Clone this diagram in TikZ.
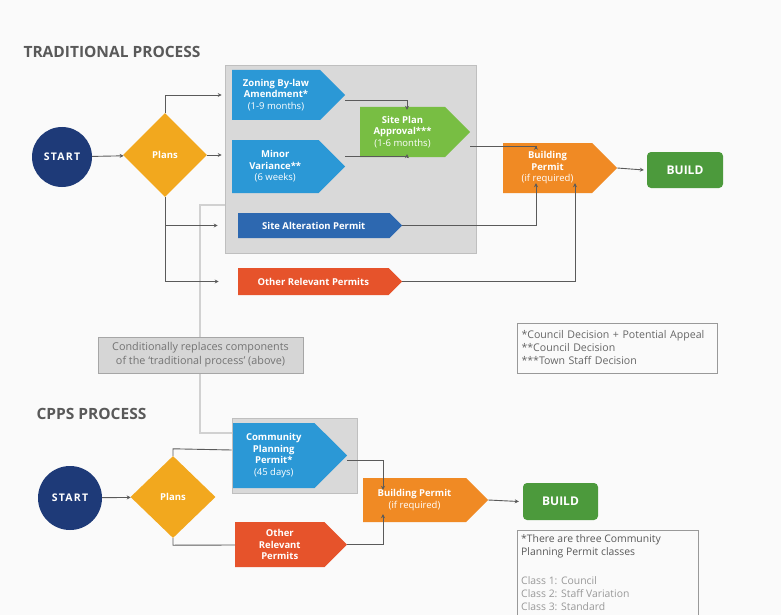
\documentclass[tikz,border=0pt]{standalone}
\usepackage{fontspec}
\setmainfont{Open Sans}
\newfontfamily\spacedfont[LetterSpace=12]{Open Sans}
\usetikzlibrary{shapes.geometric,shapes.symbols,arrows.meta}
\definecolor{navy}{HTML}{1E3A78}
\definecolor{gold}{HTML}{F2A81E}
\definecolor{sky}{HTML}{2B98D6}
\definecolor{lime}{HTML}{78BE43}
\definecolor{royal}{HTML}{2D68B0}
\definecolor{redor}{HTML}{E6532B}
\definecolor{orng}{HTML}{F08A24}
\definecolor{grn}{HTML}{4C9A3C}
\definecolor{boxgrey}{HTML}{D9D9D9}
\definecolor{linegrey}{HTML}{5A5A5A}
\definecolor{bg}{HTML}{FAFAFA}
\tikzset{
  arrowbox/.style={signal, signal to=east, signal from=nowhere, draw=none, text=white,
    font=\fontsize{9.5}{11.5}\selectfont\bfseries, align=center, inner sep=1pt},
  startnode/.style={circle, fill=navy, text=white, inner sep=0pt,
    font=\fontsize{10.5}{12}\spacedfont\bfseries},
  decision/.style={diamond, fill=gold, text=white, inner sep=0pt,
    font=\fontsize{9.5}{11}\selectfont\bfseries},
  buildnode/.style={rectangle, rounded corners=4pt, fill=grn, text=white,
    font=\fontsize{12}{14}\selectfont\bfseries},
  group/.style={rectangle, fill=boxgrey, draw=black!25, line width=0.6pt},
  conn/.style={draw=linegrey, line width=0.9pt, -{Stealth[length=4pt,width=4pt]}},
  plain/.style={draw=linegrey, line width=0.9pt},
  link/.style={draw=black!18, line width=1.3pt},
  title/.style={anchor=west, text=black!65, font=\fontsize{15.5}{17}\selectfont\bfseries},
}
\begin{document}
\begin{tikzpicture}[x=1pt,y=-1pt]
\useasboundingbox (0,0) rectangle (781,615);
\fill[bg] (0,0) rectangle (781,615);

% ---------- TRADITIONAL PROCESS ----------
\node[title] (t1) at (20,52) {TRADITIONAL PROCESS};

\node[group, minimum width=251, minimum height=188] (grey1) at (350.5,159) {};
\node[group, minimum width=125, minimum height=75] (grey2) at (294.5,455.5) {};

% link between processes
\coordinate (l1) at (200,205);
\coordinate (l2) at (200,433);
\draw[link] (grey1.west |- l1) -- (l1) -- (l2) -- (grey2.west |- l2);

\node[startnode, minimum size=60] (start1) at (62,157) {START};
\node[decision, minimum width=84, minimum height=84] (dia1) at (165,155) {Plans};

\node[arrowbox, fill=sky, minimum width=113, minimum height=50] (zoning) at (276,95)
  {Zoning By-law\\Amendment*\\{\mdseries(1-9 months)}};
\node[arrowbox, fill=sky, minimum width=113, minimum height=53] (minor) at (275.25,166.5)
  {Minor\\Variance**\\{\mdseries(6 weeks)}};
\node[arrowbox, fill=lime, minimum width=110, minimum height=50] (siteplan) at (402.5,132)
  {Site Plan\\Approval***\\{\mdseries(1-6 months)}};
\node[arrowbox, fill=royal, minimum width=164, minimum height=25] (sitealt) at (313.75,225.5)
  {Site Alteration Permit};
\node[arrowbox, fill=redor, minimum width=164, minimum height=27] (other1) at (313.25,281.5)
  {Other Relevant Permits};
\node[arrowbox, fill=orng, minimum width=114, minimum height=50] (bp1) at (547.5,168)
  {Building\\Permit\\{\mdseries(if required)}};
\node[buildnode, minimum width=76, minimum height=36] (build1) at (685,170) {BUILD};

\draw[conn] (start1) -- (dia1);
\draw[conn] (dia1.north) |- ([xshift=-3]grey1.west |- zoning.west);
\draw[conn] (dia1.east) -- ([xshift=-3]grey1.west |- dia1.east);
\draw[conn] (dia1.south) |- ([xshift=-7]grey1.west |- sitealt.west);
\draw[conn] (dia1.south) |- ([xshift=-6]grey1.west |- other1.west);
\draw[conn] ([yshift=-5]zoning.east) -| ([xshift=4.5,yshift=-3]siteplan.north);
\draw[conn] ([yshift=10]minor.east) -| ([xshift=4.5,yshift=3]siteplan.south);
\draw[conn] ([yshift=-14]siteplan.east) -| ([xshift=-11.5,yshift=-3]bp1.north);
\draw[conn] (sitealt.east) -| ([xshift=-11.5,yshift=10]bp1.south);
\draw[conn] (other1.east) -| ([xshift=27.5,yshift=10]bp1.south);
\draw[conn] (bp1.east) -- ([xshift=-3]build1.west);

% note and legend
\node[rectangle, fill=black!16, draw=black!35, line width=0.6pt, minimum width=205,
  minimum height=36, align=center, text=black!55, font=\fontsize{10.8}{14}\selectfont, inner sep=2pt] (note1)
  at (200.5,355) {Conditionally replaces components\\of the `traditional process' (above)};
\node[rectangle, draw=black!40, line width=0.6pt, minimum height=50, text width=191,
  align=left, text=black!60, font=\fontsize{10.6}{13}\selectfont, inner xsep=4.5pt] (legend)
  at (617,348) {*Council Decision + Potential Appeal\\{}**Council Decision\\{}***Town Staff Decision};

% ---------- CPPS PROCESS ----------
\node[title] (t2) at (33,414) {CPPS PROCESS};

\node[startnode, minimum size=64] (start2) at (70,498) {START};
\node[decision, minimum width=85, minimum height=82] (dia2) at (173,497) {Plans};

\node[arrowbox, fill=sky, minimum width=114, minimum height=65] (cpp) at (273.75,455.5)
  {Community\\Planning\\Permit*\\{\mdseries(45 days)}};
\node[arrowbox, fill=redor, minimum width=112, minimum height=45] (other2) at (279.75,544.5)
  {Other\\Relevant\\Permits};
\node[arrowbox, fill=orng, minimum width=125, minimum height=44] (bp2) at (414.5,500)
  {Building Permit\\{\mdseries(if required)}};
\node[buildnode, minimum width=75, minimum height=37] (build2) at (560.5,501.5) {BUILD};

\draw[conn] (start2) -- (dia2);
\draw[plain] (dia2.north) -- ++(0,-7) -- (grey2.west |- 0,450);
\draw[plain] (dia2.south) -- ++(0,7) -- (other2.west |- 0,545);
\draw[conn] ([yshift=-5]cpp.east) -| ([xshift=-31.5,yshift=-12]bp2.north);
\draw[conn] (other2.east) -| ([xshift=-31.5,yshift=8]bp2.south);
\draw[conn] (bp2.east) -- ([xshift=-4]build2.west);

% footnote
\draw[draw=black!40, line width=0.6pt] (517,530) rectangle (698,625);
\node[anchor=north west, align=left, inner sep=0pt, font=\fontsize{10.4}{13}\selectfont] (foot)
  at (521,534) {\textcolor{black!65}{*There are three Community}\\
  \textcolor{black!65}{Planning Permit classes}\\[16pt]
  \textcolor{black!40}{Class 1: Council}\\
  \textcolor{black!40}{Class 2: Staff Variation}\\
  \textcolor{black!40}{Class 3: Standard}};
\end{tikzpicture}
\end{document}
